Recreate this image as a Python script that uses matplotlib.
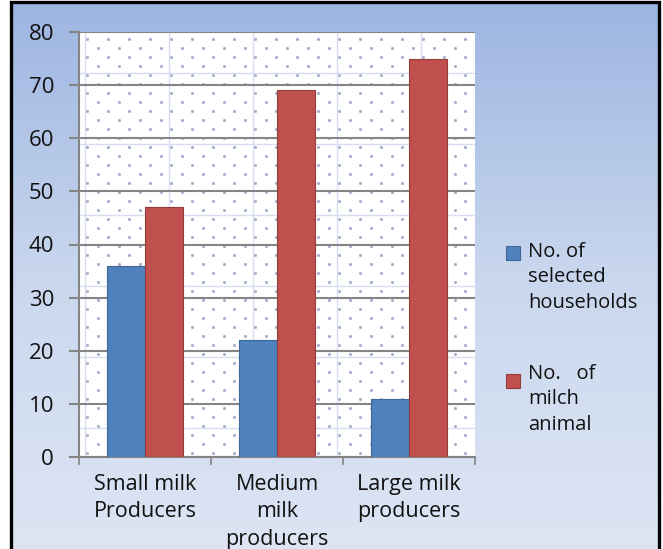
import numpy as np
import matplotlib
matplotlib.use("Agg")
import matplotlib.pyplot as plt
from matplotlib.patches import Rectangle
from matplotlib.colors import LinearSegmentedColormap

plt.rcParams['font.family'] = ['Open Sans', 'DejaVu Sans']

# data
categories = ['Small milk\nProducers', 'Medium\nmilk\nproducers', 'Large milk\nproducers']
households = [36, 22, 11]
milch_animals = [47, 69, 75]
series_labels = ['No. of\nselected\nhouseholds', 'No.   of\nmilch\nanimal']
bar_colors = ['#4f81bd', '#c0504d']
edge_colors = ['#3d6796', '#933d3a']

W, H = 663, 549
fig = plt.figure(figsize=(W / 100, H / 100), dpi=100, facecolor='white')

# gradient background inside the frame
bg = fig.add_axes([11 / W, 0, (658 - 11) / W, (H - 2) / H], zorder=0)
grad = np.linspace(0, 1, 256).reshape(-1, 1)
cmap = LinearSegmentedColormap.from_list('bg', ['#dde5f4', '#c9d7ee', '#9db5e1'])
bg.imshow(grad, aspect='auto', cmap=cmap, origin='lower', extent=[0, 1, 0, 1])
bg.axis('off')
fig.add_artist(Rectangle((10.5 / W, -0.01), (658.5 - 10.5) / W, 1.01 - 1.5 / H,
                         transform=fig.transFigure, fill=False,
                         edgecolor='black', linewidth=2.4, zorder=10))

# plot area
x0, x1, y0, y1 = 79, 475, 32, 457
ax = fig.add_axes([x0 / W, 1 - y1 / H, (x1 - x0) / W, (y1 - y0) / H], zorder=1)
ax.set_facecolor('white')
pw, ph = x1 - x0, y1 - y0

# dotted fill pattern
rows = np.arange(39, y1, 9)
xs, ys = [], []
for i, ry in enumerate(rows):
    start = 87 if i % 2 == 0 else 97.5
    cols = np.arange(start, x1, 21)
    xs.extend((cols - x0) / pw)
    ys.extend([(y1 - ry) / ph] * len(cols))
ax.scatter(xs, ys, s=5, color='#a9accb', linewidths=0, transform=ax.transAxes, zorder=0.5)
for px in np.arange(85, x1, 84):
    ax.plot([(px - x0) / pw] * 2, [0, 1], color='#d5def2', lw=1,
            transform=ax.transAxes, zorder=0.6)
for py in np.arange(73, y1, 71):
    ax.plot([0, 1], [(y1 - py) / ph] * 2, color='#d5def2', lw=1,
            transform=ax.transAxes, zorder=0.6)

x = np.arange(len(categories))
bw = 0.285
ax.bar(x - bw / 2, households, bw, color=bar_colors[0], edgecolor=edge_colors[0],
       linewidth=0.8, zorder=3)
ax.bar(x + bw / 2, milch_animals, bw, color=bar_colors[1], edgecolor=edge_colors[1],
       linewidth=0.8, zorder=3)

ax.set_xlim(-0.5, len(categories) - 0.5)
ax.set_ylim(0, 80)
ax.set_yticks(np.arange(0, 81, 10))
ax.yaxis.grid(True, color='#858585', linewidth=1.5)
for gl in ax.get_ygridlines():
    gl.set_zorder(2)

ax.set_xticks(x)
ax.set_xticklabels(categories, fontsize=15.5, linespacing=1.42, color='#111111')
ax.set_xticks(np.arange(-0.5, len(categories)), minor=True)
ax.tick_params(axis='x', which='major', length=0, pad=12)
ax.tick_params(axis='x', which='minor', length=6, width=1.2, color='#858585', direction='out')
ax.tick_params(axis='y', length=7, width=1.5, color='#858585', pad=11, labelsize=16,
               labelcolor='#111111')

for s in ['top', 'right']:
    ax.spines[s].set_visible(False)
for s in ['left', 'bottom']:
    ax.spines[s].set_color('#858585')
    ax.spines[s].set_linewidth(1.5)

# legend on the right
legend_rows = [(249, 253), (371, 381)]
for (ty, sy), lab, fc, ec in zip(legend_rows, series_labels, bar_colors, edge_colors):
    fig.add_artist(Rectangle((506 / W, 1 - (sy + 7) / H), 14 / W, 14 / H,
                             transform=fig.transFigure, facecolor=fc,
                             edgecolor=ec, linewidth=0.8, zorder=5))
    fig.text(528 / W, 1 - (ty - 7) / H, lab, ha='left', va='top', fontsize=14.5,
             linespacing=1.36, color='#111111', zorder=5)

fig.savefig('out.png', dpi=100, facecolor=fig.get_facecolor())
